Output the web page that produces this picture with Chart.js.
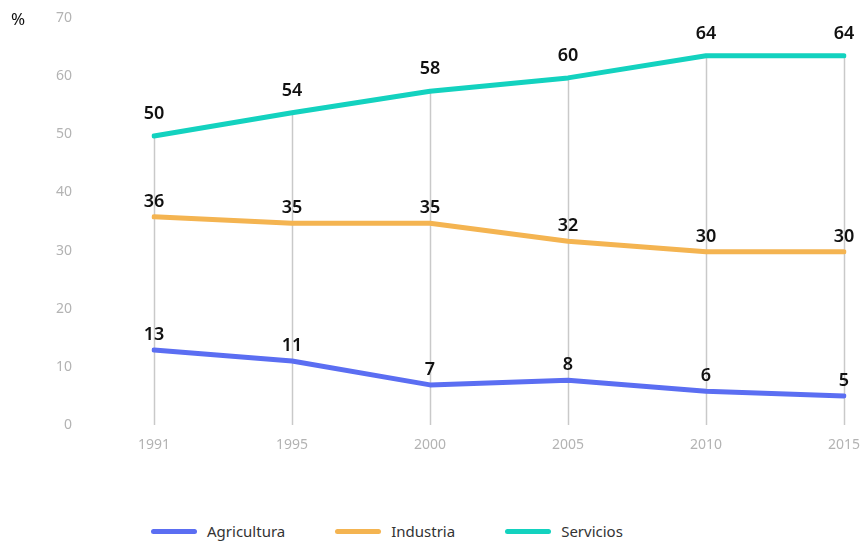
<!DOCTYPE html>
<html>
<head>
<meta charset="utf-8">
<script src="https://cdn.jsdelivr.net/npm/chart.js@4/dist/chart.umd.min.js"></script>
<style>
  html, body { margin: 0; padding: 0; background: #fff; overflow: hidden; }
  #wrap { position: relative; width: 862px; height: 542px; font-family: "Noto Sans", sans-serif; }
  #box { position: absolute; left: 0; top: 0; width: 862px; height: 470px; }
  #legend { position: absolute; left: 151px; top: 520px; display: flex; font-size: 15px; color: #333; }
  .item { display: flex; align-items: center; margin-right: 50px; height: 22px; }
  .swatch { width: 46px; height: 5px; border-radius: 3px; margin-right: 10px; }
</style>
</head>
<body>
<div id="wrap">
  <div id="box"><canvas id="chart"></canvas></div>
  <div id="legend"></div>
</div>
<script>
const years = ["1991", "1995", "2000", "2005", "2010", "2015"];
const agricultura = [12.9, 11.0, 6.9, 7.7, 5.8, 5.0];
const industria = [35.8, 34.7, 34.7, 31.6, 29.8, 29.8];
const servicios = [49.7, 53.7, 57.4, 59.7, 63.5, 63.5];
const agriculturaLabels = ["13", "11", "7", "8", "6", "5"];
const industriaLabels = ["36", "35", "35", "32", "30", "30"];
const serviciosLabels = ["50", "54", "58", "60", "64", "64"];
const unitLabel = "%";

const colors = {
	agricultura: "#5b6ef2",
	industria: "#f4b451",
	servicios: "#13d2bf",
	tick: "#b3b3b3",
	drop: "#c9c9c9",
};

// vertical lines from zero up to the highest point of each year
const dropLines = {
	id: "dropLines",
	beforeDatasetsDraw(chart) {
		const { ctx, scales: { x, y } } = chart;
		ctx.save();
		ctx.strokeStyle = colors.drop;
		ctx.lineWidth = 1.5;
		years.forEach((_, i) => {
			const top = Math.max(...chart.data.datasets.map(ds => ds.data[i]));
			const px = Math.round(x.getPixelForValue(i)) + 0.5;
			ctx.beginPath();
			ctx.moveTo(px, y.getPixelForValue(0));
			ctx.lineTo(px, y.getPixelForValue(top));
			ctx.stroke();
		});
		ctx.restore();
	},
};

const valueLabels = {
	id: "valueLabels",
	afterDatasetsDraw(chart) {
		const { ctx } = chart;
		ctx.save();
		ctx.fillStyle = "#111";
		ctx.font = "600 18px 'Noto Sans', sans-serif";
		ctx.textAlign = "center";
		ctx.textBaseline = "middle";
		chart.data.datasets.forEach((ds, d) => {
			chart.getDatasetMeta(d).data.forEach((pt, i) => {
				ctx.fillText(ds.valueLabels[i], pt.x, pt.y - ds.labelOffset);
			});
		});
		// unit mark top left
		ctx.font = "17px 'Noto Sans', sans-serif";
		ctx.fillText(unitLabel, 18, 20);
		ctx.restore();
	},
};

const makeSet = (label, data, labels, color, labelOffset) => ({
	label,
	data,
	valueLabels: labels,
	labelOffset,
	borderColor: color,
	backgroundColor: color,
	borderWidth: 5,
	borderCapStyle: "round",
	borderJoinStyle: "round",
	pointRadius: 0,
	tension: 0,
});

const chart = new Chart(document.getElementById("chart"), {
	type: "line",
	data: {
		labels: years,
		datasets: [
			makeSet("Agricultura", agricultura, agriculturaLabels, colors.agricultura, 15),
			makeSet("Industria", industria, industriaLabels, colors.industria, 15),
			makeSet("Servicios", servicios, serviciosLabels, colors.servicios, 22),
		],
	},
	options: {
		responsive: true,
		maintainAspectRatio: false,
		animation: false,
		layout: { padding: { top: 18, right: 18, left: 0, bottom: 0 } },
		scales: {
			x: {
				offset: false,
				grid: { display: false, drawTicks: false },
				border: { display: false },
				ticks: {
					color: colors.tick,
					padding: 12,
					maxRotation: 0,
					font: { family: "'Noto Sans', sans-serif", size: 14 },
				},
				afterFit: scale => {
					scale.height = 45;
					scale.paddingLeft = 0;
					scale.paddingRight = 0;
				},
			},
			y: {
				min: 0,
				max: 70,
				grid: { display: false, drawTicks: false },
				border: { display: false },
				ticks: {
					stepSize: 10,
					color: colors.tick,
					padding: 82,
					font: { family: "'Noto Sans', sans-serif", size: 14 },
				},
				afterFit: scale => {
					scale.width = 154;
					scale.paddingTop = 0;
					scale.paddingBottom = 0;
				},
			},
		},
		plugins: {
			legend: { display: false },
			tooltip: { enabled: false },
		},
	},
	plugins: [dropLines, valueLabels],
});

const legend = document.getElementById("legend");
chart.data.datasets.forEach(ds => {
	const item = document.createElement("div");
	item.className = "item";
	const sw = document.createElement("span");
	sw.className = "swatch";
	sw.style.background = ds.borderColor;
	const txt = document.createElement("span");
	txt.textContent = ds.label;
	item.appendChild(sw);
	item.appendChild(txt);
	legend.appendChild(item);
});
</script>
</body>
</html>
